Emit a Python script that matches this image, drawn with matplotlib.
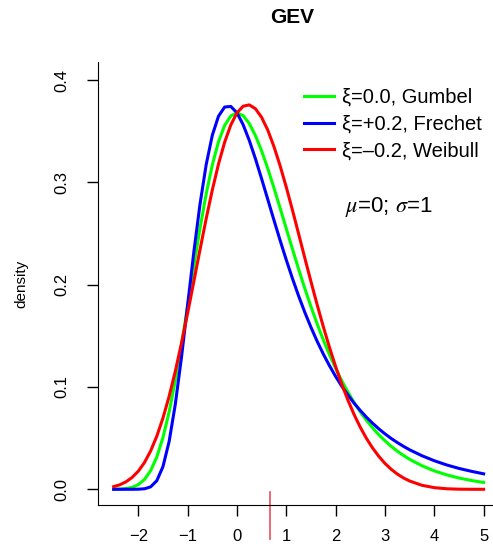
import matplotlib.pyplot as plt
import numpy as np

plt.rcParams['font.family'] = ['Liberation Sans', 'DejaVu Sans']
plt.rcParams['mathtext.fontset'] = 'stix'

# x grid of the curves
x = [-2.5, -2.375, -2.25, -2.125, -2.0, -1.875, -1.75, -1.625, -1.5, -1.375,
     -1.25, -1.125, -1.0, -0.875, -0.75, -0.625, -0.5, -0.375, -0.25, -0.125,
     0.0, 0.125, 0.25, 0.375, 0.5, 0.625, 0.75, 0.875, 1.0, 1.125,
     1.25, 1.375, 1.5, 1.625, 1.75, 1.875, 2.0, 2.125, 2.25, 2.375,
     2.5, 2.625, 2.75, 2.875, 3.0, 3.125, 3.25, 3.375, 3.5,
     3.75, 4.0, 4.25, 4.5, 4.75, 5.0]

gumbel = [0.0001, 0.0002, 0.0007, 0.0019, 0.0046, 0.0096, 0.0182, 0.0316, 0.0507, 0.0757,
          0.1064, 0.1415, 0.1794, 0.2178, 0.2549, 0.2885, 0.3170, 0.3396, 0.3556, 0.3649,
          0.3679, 0.3652, 0.3575, 0.3456, 0.3307, 0.3134, 0.2945, 0.2748, 0.2547, 0.2347,
          0.2151, 0.1963, 0.1785, 0.1617, 0.1461, 0.1316, 0.1182, 0.1060, 0.0949, 0.0847,
          0.0756, 0.0674, 0.0600, 0.0533, 0.0474, 0.0420, 0.0373, 0.0331, 0.0293,
          0.0230, 0.0180, 0.0141, 0.0110, 0.0086, 0.0067]

frechet = [0.0, 0.0, 0.0, 0.0, 0.0001, 0.0005, 0.0024, 0.0084, 0.0222, 0.0468,
           0.0831, 0.1290, 0.1803, 0.2317, 0.2784, 0.3171, 0.3460, 0.3646, 0.3736, 0.3742,
           0.3679, 0.3563, 0.3409, 0.3229, 0.3034, 0.2832, 0.2630, 0.2432, 0.2241, 0.2060,
           0.1889, 0.1730, 0.1583, 0.1447, 0.1322, 0.1208, 0.1103, 0.1007, 0.0921, 0.0841,
           0.0770, 0.0704, 0.0645, 0.0591, 0.0542, 0.0497, 0.0457, 0.0420, 0.0386,
           0.0328, 0.0279, 0.0238, 0.0204, 0.0176, 0.0151]

weibull = [0.0026, 0.0044, 0.0073, 0.0116, 0.0177, 0.0262, 0.0375, 0.0519, 0.0697, 0.0909,
           0.1154, 0.1427, 0.1722, 0.2030, 0.2340, 0.2643, 0.2925, 0.3178, 0.3392, 0.3561,
           0.3679, 0.3744, 0.3757, 0.3719, 0.3635, 0.3510, 0.3349, 0.3161, 0.2952, 0.2728,
           0.2496, 0.2261, 0.2030, 0.1804, 0.1590, 0.1387, 0.1199, 0.1027, 0.0870, 0.0730,
           0.0606, 0.0497, 0.0403, 0.0322, 0.0253, 0.0196, 0.0149, 0.0111, 0.0081,
           0.0039, 0.0016, 0.0005, 0.0001, 0.0, 0.0]

labels = ['\u03be=0.0, Gumbel', '\u03be=+0.2, Frechet', '\u03be=\u20130.2, Weibull']
colors = ['#00ff00', '#0000ff', '#ff0000']
mark_x = 0.66

fig = plt.figure(figsize=(4.93, 5.44), dpi=100)
ax = fig.add_axes([0.1978, 0.0717, 0.8022, 0.8143])

for y, lab, c in zip([gumbel, frechet, weibull], labels, colors):
    ax.plot(x, y, color=c, lw=2.2, label=lab)

ax.plot([mark_x, mark_x], [-0.0023, -0.0485], color='#e8505e', lw=1.2, clip_on=False)

ax.set_xlim(-2.827, 5.19)
ax.set_ylim(-0.01535, 0.4176)
ax.set_xticks(np.arange(-2, 6, 1))
ax.set_yticks([0.0, 0.1, 0.2, 0.3, 0.4])
ax.set_yticklabels(['0.0', '0.1', '0.2', '0.3', '0.4'])
ax.spines['top'].set_visible(False)
ax.spines['right'].set_visible(False)
ax.tick_params(axis='both', direction='out', length=8, width=1, labelsize=12)
ax.tick_params(axis='x', pad=9)
ax.tick_params(axis='y', pad=12, labelrotation=90)
for t in ax.get_yticklabels():
    t.set_va('center')

ax.set_ylabel('density', fontsize=11, labelpad=19)
fig.text(291.7 / 493, 1 - 17.5 / 544, 'GEV', fontsize=15, fontweight='bold',
         ha='center', va='center')

ax.legend(loc='upper left', bbox_to_anchor=(304 / 493, 1 - 88 / 544),
          bbox_transform=fig.transFigure, frameon=False, fontsize=14.5,
          handlelength=1.5, handletextpad=0.38, labelspacing=0.38,
          borderpad=0, borderaxespad=0)

fig.text(345 / 493, 1 - 207 / 544, r'$\mu$=0; $\sigma$=1', fontsize=16,
         ha='left', va='center')

fig.savefig('out.png', dpi=100)
